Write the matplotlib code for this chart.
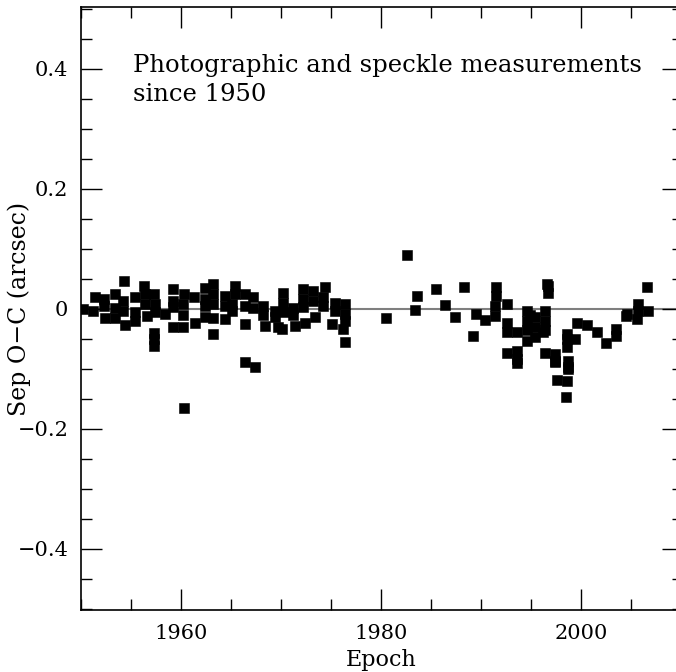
import matplotlib
matplotlib.use("Agg")
import matplotlib.pyplot as plt
from matplotlib.ticker import MultipleLocator, FuncFormatter

# Epoch (years) and Sep O-C residuals (arcsec)
epoch = [
    1950.2, 1951.2, 1951.4, 1952.3, 1952.3, 1952.4, 1953.4, 1953.4, 1953.4,
    1954.3, 1954.2, 1954.2, 1954.4, 1955.4, 1955.4, 1955.4, 1956.3, 1956.4,
    1956.4, 1956.6, 1957.3, 1957.4, 1957.4, 1957.3, 1957.3, 1957.3, 1958.4,
    1959.2, 1959.2, 1959.2, 1959.2, 1960.3, 1960.2, 1960.2, 1960.2, 1960.3,
    1961.4, 1961.3, 1962.4, 1962.4, 1962.4, 1962.4, 1963.2, 1963.2, 1963.2,
    1963.2, 1963.2, 1964.4, 1964.4, 1964.4, 1965.1, 1965.4, 1965.4, 1965.1,
    1966.4, 1966.4, 1966.4, 1967.2, 1967.2, 1966.4, 1967.4, 1968.2, 1968.2,
    1968.4, 1969.4, 1969.4, 1969.7, 1970.1, 1970.2, 1970.2, 1970.3, 1971.2,
    1971.2, 1971.4, 1972.2, 1972.2, 1972.2, 1972.4, 1973.2, 1973.2, 1973.4,
    1974.4, 1974.2, 1974.2, 1975.1, 1975.4, 1975.4, 1976.4, 1976.4, 1976.4,
    1976.2, 1976.4,
    1980.5, 1982.6, 1983.6, 1983.4, 1985.5, 1986.4, 1987.4, 1988.3, 1989.5,
    1990.4, 1989.2,
    1991.5, 1991.5, 1991.4, 1991.4, 1992.6, 1992.6, 1992.6, 1992.6, 1993.6,
    1993.6, 1993.6, 1993.6, 1994.6, 1994.6, 1994.6, 1994.6, 1994.9, 1995.4,
    1995.4, 1995.4, 1996.4, 1996.4, 1996.4, 1996.7, 1996.7, 1996.4, 1997.4,
    1997.4, 1996.6, 1996.2, 1997.4, 1998.6, 1998.6, 1998.6, 1998.7, 1998.7,
    1998.7, 1997.6, 1998.6, 1998.5, 1999.4, 1999.6, 2000.6, 2001.6, 2002.5,
    2003.5, 2003.5, 2006.6, 2005.7, 2005.7, 2006.7, 2005.6, 2004.6, 2004.5,
]
sep_oc = [
    0.000, -0.003, 0.020, 0.017, 0.005, -0.016, 0.025, 0.002, -0.015,
    0.047, 0.013, -0.003, -0.027, 0.019, -0.006, -0.020, 0.038, 0.025,
    0.008, -0.012, 0.025, 0.008, -0.006, -0.040, -0.050, -0.062, -0.009,
    0.033, 0.013, 0.003, -0.030, 0.024, 0.008, -0.010, -0.031, -0.165,
    -0.023, 0.019, 0.035, 0.016, 0.005, -0.014, 0.041, 0.024, 0.008,
    -0.015, -0.042, 0.022, 0.005, -0.017, 0.008, 0.038, 0.025, -0.003,
    0.024, 0.005, -0.026, 0.019, 0.002, -0.089, -0.097, 0.005, -0.010,
    -0.028, -0.003, -0.014, -0.031, -0.034, 0.027, 0.010, -0.006, 0.002,
    -0.010, -0.028, 0.033, 0.016, 0.003, -0.023, 0.030, 0.013, -0.014,
    0.036, 0.019, 0.004, -0.026, 0.010, -0.003, 0.008, -0.008, -0.020,
    -0.034, -0.056,
    -0.016, 0.089, 0.022, -0.002, 0.033, 0.007, -0.014, 0.037, -0.008,
    -0.018, -0.045,
    0.036, 0.022, 0.005, -0.012, 0.008, -0.023, -0.039, -0.073, -0.039,
    -0.084, -0.090, -0.070, -0.003, -0.020, -0.036, -0.053, -0.010, -0.014,
    -0.030, -0.047, -0.003, -0.020, -0.036, 0.038, 0.027, -0.073, -0.075,
    -0.089, 0.041, -0.039, -0.087, -0.042, -0.050, -0.064, -0.087, -0.097,
    -0.100, -0.119, -0.120, -0.147, -0.050, -0.023, -0.027, -0.039, -0.057,
    -0.034, -0.045, 0.037, 0.008, -0.003, -0.003, -0.017, -0.009, -0.012,
]

plt.rcParams["font.family"] = ["DejaVu Serif"]
plt.rcParams["axes.unicode_minus"] = True

W, H = 676, 672
fig = plt.figure(figsize=(W / 100, H / 100), dpi=100)
left_px, right_px, top_px, bot_px = 81, 683, 7, 610
ax = fig.add_axes([left_px / W, 1 - bot_px / H,
                   (right_px - left_px) / W, (bot_px - top_px) / H])

ax.axhline(0, color="#7f7f7f", lw=1.5, zorder=1)
ax.plot(epoch, sep_oc, "s", color="black", ms=7.2, mec="black", mew=0.4,
        zorder=2)

ax.set_xlim(1950, 2010.2)
ax.set_ylim(-0.502, 0.503)

ax.xaxis.set_major_locator(MultipleLocator(20))
ax.xaxis.set_minor_locator(MultipleLocator(5))
ax.yaxis.set_major_locator(MultipleLocator(0.2))
ax.yaxis.set_minor_locator(MultipleLocator(0.05))


def yfmt(v, pos):
    if abs(v) < 1e-9:
        return "0"
    s = f"{abs(v):.1f}"
    return ("\u2212" + s) if v < 0 else s


ax.yaxis.set_major_formatter(FuncFormatter(yfmt))
ax.xaxis.set_major_formatter(FuncFormatter(lambda v, p: f"{int(round(v))}"))

ax.tick_params(which="both", direction="in", top=True, right=True,
               labelsize=15, color="black")
ax.tick_params(which="major", length=15, width=1.0)
ax.tick_params(axis="y", which="major", pad=9)
ax.tick_params(axis="x", which="major", pad=10)
ax.tick_params(which="minor", length=8, width=1.0)
for sp in ax.spines.values():
    sp.set_linewidth(1.2)

ax.set_xlabel("Epoch", fontsize=16)
ax.xaxis.set_label_coords((381 - left_px) / (right_px - left_px),
                          -(649 - bot_px) / (bot_px - top_px))
ax.set_ylabel("Sep O\u2212C (arcsec)", fontsize=17)
ax.yaxis.set_label_coords(-(left_px - 31) / (right_px - left_px), 0.5)

ax.text(1955.2, 0.347, "Photographic and speckle measurements\nsince 1950",
        fontsize=17.5, ha="left", va="baseline", linespacing=1.3,
        transform=ax.transData)

fig.savefig("out.png", dpi=100)
